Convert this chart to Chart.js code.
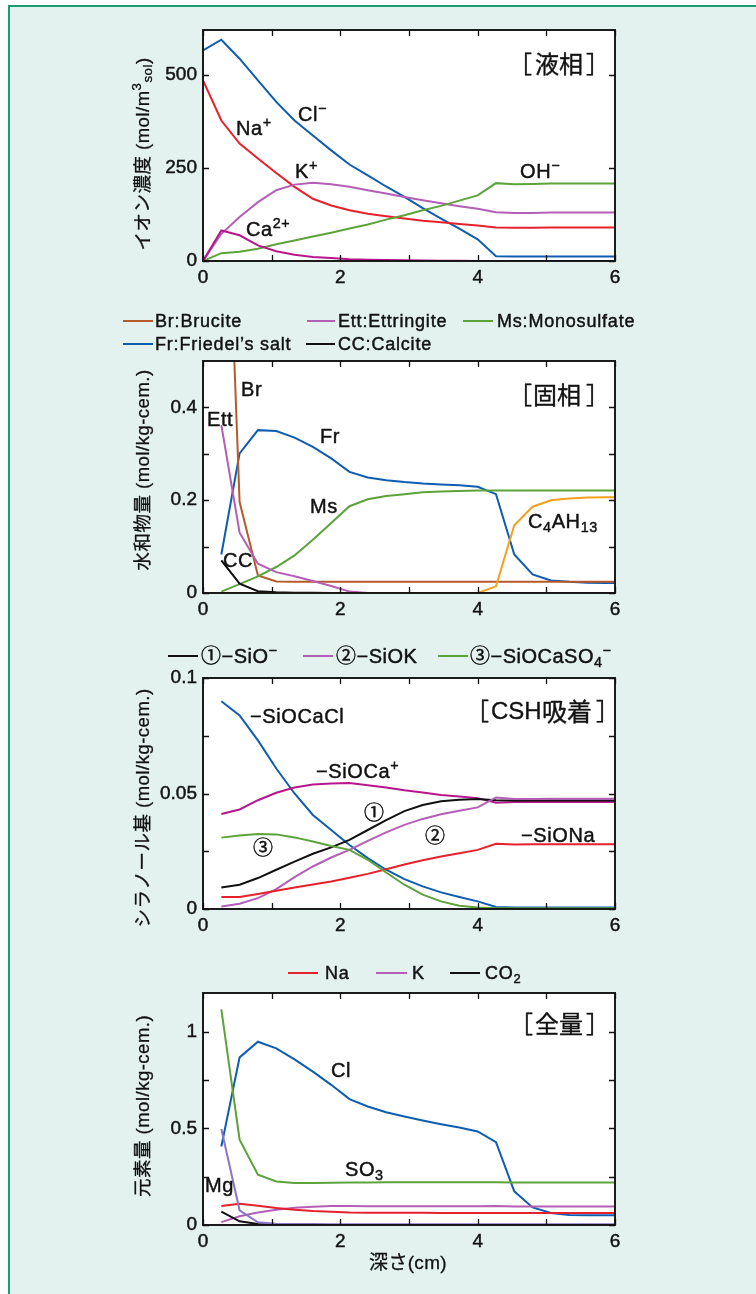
<!DOCTYPE html>
<html><head><meta charset="utf-8">
<script src="https://cdn.jsdelivr.net/npm/chart.js@4.4.1/dist/chart.umd.min.js"></script>
<style>
html,body{margin:0;padding:0;background:#fff;width:756px;height:1294px;overflow:hidden}
#bg{position:absolute;left:8px;top:5px;width:748px;height:1289px;background:#e3f2ef;border-left:2px solid #1b9a74;border-top:2px solid #1b9a74;box-sizing:border-box}
canvas{position:absolute;left:0}
</style></head><body>
<div id="bg"></div>
<canvas id="c1" width="756" height="300" style="top:0px"></canvas>
<canvas id="c2" width="756" height="330" style="top:300px"></canvas>
<canvas id="c3" width="756" height="315" style="top:630px"></canvas>
<canvas id="c4" width="756" height="349" style="top:945px"></canvas>
<script>
// ---------- DATA ----------
const depthLiquid = [0,0.267,0.533,0.8,1.067,1.333,1.6,1.867,2.133,2.4,2.667,2.933,3.2,3.467,3.733,4.0,4.267,4.533,4.8,5.067,5.333,5.6,5.867,6.0];
const depthSolid  = [0.267,0.533,0.8,1.067,1.333,1.6,1.867,2.133,2.4,2.667,2.933,3.2,3.467,3.733,4.0,4.267,4.533,4.8,5.067,5.333,5.6,5.867,6.0];

// Panel 1: liquid phase (mol/m3)
const liqCl = [565,594,543,485,427,377,337,297,259,230,200,172,142,114,87,58,12.5,12,12,12,12,12,12,12];
const liqNa = [485,377,315,275,236,199,167,149,136,127,120,114,108,104,99,95,90,89,89,90,90,90,90,90];
const liqK  = [0,73,118,158,190,205,210,206,199,190,181,172,163,155,147,140,131,129,129,130,130,130,130,130];
const liqCa = [0,82,69,42,26,17,11,8,5,3.6,2.5,1.8,1.2,0.8,0.5,0.3,0.2,0.1,0,0,0,0,0,0];
const liqOH = [0,21,25,33,45,55,66,76,87,98,111,123,136,148,162,176,209,206,207,208,208,208,208,208];

// Panel 2: solid phase (mol/kg-cem.)
const solBr  = [1.25,0.196,0.038,0.025,0.024,0.024,0.024,0.024,0.024,0.024,0.024,0.024,0.024,0.024,0.024,0.024,0.024,0.024,0.024,0.024,0.024,0.024,0.024];
const solEtt = [0.362,0.130,0.063,0.045,0.036,0.026,0.015,0.003,0,0,0,0,0,0,0,0,0,0,0,0,0,0,0];
const solFr  = [0.083,0.301,0.351,0.349,0.335,0.315,0.290,0.261,0.249,0.243,0.239,0.236,0.234,0.232,0.229,0.213,0.083,0.040,0.027,0.024,0.022,0.0216,0.0215];
const solMs  = [0.003,0.019,0.036,0.056,0.081,0.115,0.151,0.187,0.202,0.209,0.213,0.217,0.219,0.220,0.221,0.221,0.221,0.221,0.221,0.221,0.221,0.221,0.221];
const solCC  = [0.0705,0.020,0.004,0.0015,0.0007,0.0003,0,0,0,0,0,0,0,0,0,0,0,0,0,0,0,0,0];
const solC4AH13 = [0,0,0,0,0,0,0,0,0,0,0,0,0,0,0,0.0144,0.146,0.186,0.200,0.2036,0.2058,0.2065,0.2065];

// Panel 3: CSH adsorption (mol/kg-cem.)
const cshSiOCaCl  = [0.0899,0.0838,0.073,0.0608,0.050,0.0407,0.0342,0.0277,0.022,0.017,0.0129,0.0098,0.0072,0.0052,0.0033,0.0009,0.0007,0.0007,0.0007,0.0007,0.0007,0.0007,0.0007];
const cshSiOCa    = [0.0411,0.0431,0.0471,0.0503,0.0526,0.0539,0.0543,0.0545,0.0536,0.0526,0.0514,0.0504,0.0494,0.0487,0.048,0.046,0.0463,0.0463,0.0463,0.0463,0.0463,0.0463,0.0463];
const cshSiO      = [0.0093,0.0105,0.0134,0.017,0.0205,0.0239,0.0267,0.0299,0.0342,0.0385,0.0424,0.045,0.0466,0.0473,0.0476,0.0471,0.047,0.047,0.047,0.047,0.047,0.047,0.047];
const cshSiOK     = [0.0011,0.0023,0.0047,0.0086,0.0138,0.0184,0.0223,0.0256,0.0295,0.0332,0.0364,0.039,0.041,0.0425,0.044,0.0483,0.0476,0.0476,0.0477,0.0477,0.0477,0.0477,0.0477];
const cshSiOCaSO4 = [0.0309,0.0318,0.0325,0.0323,0.031,0.0292,0.0273,0.0256,0.0213,0.0158,0.0105,0.0062,0.0033,0.0014,0.0006,0.0003,0.0003,0.0003,0.0003,0.0003,0.0003,0.0003,0.0003];
const cshSiONa    = [0.0052,0.0052,0.0065,0.0079,0.0093,0.0106,0.0119,0.0135,0.0152,0.0172,0.0193,0.0211,0.0227,0.0241,0.0256,0.0282,0.0279,0.028,0.028,0.028,0.028,0.028,0.028];

// Panel 4: total amounts (mol/kg-cem.)
const totCl  = [0.406,0.867,0.948,0.914,0.857,0.793,0.725,0.651,0.613,0.583,0.561,0.540,0.521,0.504,0.484,0.429,0.174,0.091,0.062,0.052,0.05,0.05,0.05];
const totSO3 = [1.115,0.441,0.26,0.225,0.217,0.217,0.218,0.22,0.22,0.221,0.221,0.221,0.221,0.221,0.221,0.221,0.22,0.22,0.22,0.22,0.22,0.22,0.22];
const totMg  = [0.497,0.076,0.014,0.007,0.005,0.005,0.004,0.004,0.004,0.004,0.004,0.004,0.004,0.004,0.004,0.004,0.004,0.004,0.004,0.004,0.004,0.004,0.004];
const totK   = [0.015,0.045,0.065,0.079,0.089,0.095,0.098,0.098,0.097,0.097,0.097,0.097,0.097,0.097,0.097,0.098,0.096,0.096,0.096,0.096,0.096,0.096,0.096];
const totNa  = [0.098,0.11,0.10,0.088,0.079,0.072,0.069,0.065,0.064,0.063,0.063,0.063,0.062,0.062,0.062,0.062,0.062,0.062,0.062,0.062,0.062,0.062,0.062];
const totCO2 = [0.069,0.019,0.005,0.002,0.001,0,0,0,0,0,0,0,0,0,0,0,0,0,0,0,0,0,0];

// Tick values
const xTickLabels = [0,2,4,6];
const xTickMarks  = [0,1,2,3,4,5,6];
const y1Ticks = [0,250,500];
const y2Ticks = [0,0.2,0.4], y2Marks = [0,0.1,0.2,0.3,0.4];
const y3Ticks = [0,0.05,0.1], y3Marks = [0,0.025,0.05,0.075,0.1];
const y4Ticks = [0,0.5,1],   y4Marks = [0,0.25,0.5,0.75,1];

// ---------- STYLE ----------
const C = {blue:'#0f5db0', red:'#e6212b', purple:'#b35fb5', magenta:'#b8168c', green:'#5ca33b',
           brown:'#b65a2c', orange:'#f5a11d', black:'#111111', lav:'#8a76c8'};
const FONT = '"Liberation Sans","Noto Sans CJK JP",sans-serif';
const CJK  = '"Noto Sans CJK JP","Liberation Sans",sans-serif';
const SUPK = 0.72;
const TXT_STROKE = 0.45;

function segs(a){return a.map(s=>typeof s==='string'?{t:s,m:''}:{t:s[0],m:s[1]});}
function setF(ctx,size,fam){ctx.font=size+'px '+(fam||FONT);}
function rwidth(ctx,a,size,fam){let w=0;for(const s of segs(a)){setF(ctx,s.m?size*SUPK:size,fam);w+=ctx.measureText(s.t).width;}return w;}
function drawRich(ctx,a,x,y,size,align,fam,ls,sw){
  ctx.save();
  ctx.letterSpacing=(ls||0)+'px';
  const w=rwidth(ctx,a,size,fam);
  let cx=align==='left'?x:align==='right'?x-w:x-w/2;
  const base=y+size*0.36;
  ctx.textAlign='left';ctx.textBaseline='alphabetic';ctx.fillStyle='#111';ctx.strokeStyle='#111';
  ctx.lineWidth=(sw===undefined?TXT_STROKE:sw);ctx.lineJoin='round';
  for(const s of segs(a)){
    const fs=s.m?size*SUPK:size; setF(ctx,fs,fam);
    const dy=s.m==='sup'?-size*0.40:s.m==='sub'?size*0.2:0;
    if(ctx.lineWidth>0.01) ctx.strokeText(s.t,cx,base+dy);
    ctx.fillText(s.t,cx,base+dy); cx+=ctx.measureText(s.t).width;
  }
  ctx.restore();
}
// draw text so that its ink starts (or ends) at x
function drawInk(ctx,t,x,y,size,fam,side){
  ctx.save();
  setF(ctx,size,fam);ctx.textAlign='left';ctx.textBaseline='middle';ctx.fillStyle='#111';ctx.strokeStyle='#111';
  ctx.lineWidth=0.35;ctx.lineJoin='round';
  const m=ctx.measureText(t);
  const px=side==='right'?x-m.actualBoundingBoxRight:x+m.actualBoundingBoxLeft;
  ctx.strokeText(t,px,y);ctx.fillText(t,px,y);
  ctx.restore();
}

function makePanel(id, top, H, plotTop, plotBottom, ymax, yTicks, yMarks, datasets, deco){
  const XH=28;
  const deco_plugin={
    id:'deco'+id,
    beforeDraw(chart){const a=chart.chartArea,ctx=chart.ctx;ctx.save();ctx.fillStyle='#fff';ctx.fillRect(a.left,a.top,a.right-a.left,a.bottom-a.top);ctx.restore();},
    afterDatasetsDraw(chart){
      const a=chart.chartArea,ctx=chart.ctx,xs=chart.scales.x,ys=chart.scales.y;
      ctx.save();
      ctx.strokeStyle='#111';ctx.lineWidth=1.3;
      const TL=6;
      ctx.beginPath();
      for(const v of xTickMarks){const p=Math.round(xs.getPixelForValue(v))+0.5;
        ctx.moveTo(p,a.bottom);ctx.lineTo(p,a.bottom-TL);ctx.moveTo(p,a.top);ctx.lineTo(p,a.top+TL);}
      for(const v of yMarks){const p=Math.round(ys.getPixelForValue(v))+0.5;
        ctx.moveTo(a.left,p);ctx.lineTo(a.left+TL,p);ctx.moveTo(a.right,p);ctx.lineTo(a.right-TL,p);}
      ctx.stroke();
      ctx.lineWidth=1.9;ctx.strokeRect(a.left,a.top,a.right-a.left,a.bottom-a.top);
      for(const L of (deco.legend||[])){
        ctx.strokeStyle=L.c;ctx.lineWidth=2;ctx.beginPath();ctx.moveTo(L.x0,L.y-top);ctx.lineTo(L.x1,L.y-top);ctx.stroke();
        drawRich(ctx,L.s,L.tx,L.y-top,L.size||18,'left',FONT,L.ls===undefined?0.8:L.ls);
      }
      for(const T of (deco.labels||[])){
        drawRich(ctx,T.s,T.x,T.y-top,T.size||20,T.align||'left',T.fam||FONT,T.ls===undefined?0.6:T.ls);
      }
      for(const K of (deco.ink||[])){
        drawInk(ctx,K.t,K.x,K.y-top,K.size,K.fam||CJK,K.side);
      }
      if(deco.ytitle){const Y=deco.ytitle;ctx.save();ctx.translate(Y.x,Y.y-top);ctx.rotate(-Math.PI/2);
        drawRich(ctx,Y.s,0,0,Y.size||18.5,'center',FONT,Y.ls===undefined?0.5:Y.ls,0.3);ctx.restore();}
      if(deco.xtitle){const X=deco.xtitle;drawRich(ctx,X.s,X.x,X.y-top,X.size||19,'center',FONT,0.3,0.3);}
      ctx.restore();
    }
  };
  const tickFont={family:FONT,size:19};
  return new Chart(document.getElementById(id),{
    type:'line',
    data:{datasets:datasets.map(d=>({data:d.xs.map((x,i)=>({x:x,y:d.ys[i]})),borderColor:d.c,borderWidth:2,pointRadius:0,tension:0,fill:false}))},
    options:{
      responsive:false,animation:false,events:[],
      layout:{padding:{left:0,right:141,top:plotTop-top,bottom:H-(plotBottom-top)-XH}},
      plugins:{legend:{display:false},tooltip:{enabled:false}},
      scales:{
        x:{type:'linear',min:0,max:6,
           afterBuildTicks:s=>{s.ticks=xTickLabels.map(v=>({value:v}));},
           afterFit:s=>{s.height=XH;},
           grid:{display:false,drawTicks:false},border:{display:false},
           ticks:{color:'#111',font:tickFont,padding:5,maxRotation:0,autoSkip:false,textStrokeColor:'#111',textStrokeWidth:0.45}},
        y:{type:'linear',min:0,max:ymax,
           afterBuildTicks:s=>{s.ticks=yTicks.map(v=>({value:v}));},
           afterFit:s=>{s.width=203;},
           grid:{display:false,drawTicks:false},border:{display:false},
           ticks:{color:'#111',font:tickFont,padding:6,autoSkip:false,callback:v=>String(v),textStrokeColor:'#111',textStrokeWidth:0.45}}
      }
    },
    plugins:[deco_plugin]
  });
}

// Panel 1
makePanel('c1',0,300,30,261,620,y1Ticks,y1Ticks,[
  {xs:depthLiquid,ys:liqCa,c:C.magenta},
  {xs:depthLiquid,ys:liqOH,c:C.green},
  {xs:depthLiquid,ys:liqK,c:C.purple},
  {xs:depthLiquid,ys:liqNa,c:C.red},
  {xs:depthLiquid,ys:liqCl,c:C.blue}
],{
  ink:[
    {t:'［',x:532,y:64,size:24,side:'right'},{t:'液相',x:535,y:64,size:24},{t:'］',x:586,y:64,size:24}
  ],
  labels:[
    {s:['Cl',['−','sup']],x:298,y:114},
    {s:['Na',['+','sup']],x:236,y:128},
    {s:['K',['+','sup']],x:295,y:171},
    {s:['Ca',['2+','sup']],x:246,y:229},
    {s:['OH',['−','sup']],x:520,y:171}
  ],
  ytitle:{s:['イオン濃度 (mol/m',['3','sup'],['sol','sub'],')'],x:142,y:154}
});

// Panel 2
makePanel('c2',300,330,361,593,0.5,y2Ticks,y2Marks,[
  {xs:depthSolid,ys:solC4AH13,c:C.orange},
  {xs:depthSolid,ys:solEtt,c:C.purple},
  {xs:depthSolid,ys:solCC,c:C.black},
  {xs:depthSolid,ys:solMs,c:C.green},
  {xs:depthSolid,ys:solBr,c:C.brown},
  {xs:depthSolid,ys:solFr,c:C.blue}
],{
  legend:[
    {s:['Br:Brucite'],c:C.brown,x0:123,x1:153,tx:155,y:321},
    {s:['Ett:Ettringite'],c:C.purple,x0:307,x1:335,tx:338,y:321},
    {s:['Ms:Monosulfate'],c:C.green,x0:463,x1:493,tx:497,y:321},
    {s:['Fr:Friedel’s salt'],c:C.blue,x0:123,x1:153,tx:155,y:344},
    {s:['CC:Calcite'],c:C.black,x0:306,x1:335,tx:338,y:344}
  ],
  ink:[
    {t:'［',x:532,y:395,size:24,side:'right'},{t:'固相',x:535,y:395,size:24},{t:'］',x:586,y:395,size:24}
  ],
  labels:[
    {s:['Br'],x:241,y:389},
    {s:['Ett'],x:207,y:419},
    {s:['Fr'],x:320,y:436},
    {s:['Ms'],x:310,y:506},
    {s:['C',['4','sub'],'AH',['13','sub']],x:528,y:521},
    {s:['CC'],x:223,y:560}
  ],
  ytitle:{s:['水和物量 (mol/kg-cem.)'],x:142,y:470}
});

// Panel 3
makePanel('c3',630,315,678,909,0.1,y3Ticks,y3Marks,[
  {xs:depthSolid,ys:cshSiOCaSO4,c:C.green},
  {xs:depthSolid,ys:cshSiONa,c:C.red},
  {xs:depthSolid,ys:cshSiOK,c:C.purple},
  {xs:depthSolid,ys:cshSiO,c:C.black},
  {xs:depthSolid,ys:cshSiOCa,c:C.magenta},
  {xs:depthSolid,ys:cshSiOCaCl,c:C.blue}
],{
  legend:[
    {s:['①−SiO',['−','sup']],c:C.black,x0:168,x1:198,tx:201,y:656,size:20,ls:0.5},
    {s:['②−SiOK'],c:C.purple,x0:303,x1:333,tx:336,y:656,size:20,ls:0.5},
    {s:['③−SiOCaSO',['4','sub'],['−','sup']],c:C.green,x0:438,x1:468,tx:470,y:656,size:20,ls:0.5}
  ],
  ink:[
    {t:'［',x:489,y:711,size:24,side:'right'},{t:'CSH',x:492,y:712,size:24,fam:FONT},{t:'吸着',x:543,y:711,size:25},{t:'］',x:596,y:711,size:24}
  ],
  labels:[
    {s:['−SiOCaCl'],x:250,y:716},
    {s:['−SiOCa',['+','sup']],x:316,y:771},
    {s:['①'],x:374,y:813,align:'center',ls:0},
    {s:['②'],x:435,y:836,align:'center',ls:0},
    {s:['③'],x:263,y:848,align:'center',ls:0},
    {s:['−SiONa'],x:521,y:835}
  ],
  ytitle:{s:['シラノール基 (mol/kg-cem.)'],x:142,y:808}
});

// Panel 4
makePanel('c4',945,349,993,1225,1.2,y4Ticks,y4Marks,[
  {xs:depthSolid,ys:totMg,c:C.lav},
  {xs:depthSolid,ys:totCO2,c:C.black},
  {xs:depthSolid,ys:totNa,c:C.red},
  {xs:depthSolid,ys:totK,c:C.purple},
  {xs:depthSolid,ys:totSO3,c:C.green},
  {xs:depthSolid,ys:totCl,c:C.blue}
],{
  legend:[
    {s:['Na'],c:C.red,x0:288,x1:318,tx:325,y:973},
    {s:['K'],c:C.purple,x0:376,x1:407,tx:412,y:973},
    {s:['CO',['2','sub']],c:C.black,x0:450,x1:480,tx:485,y:973}
  ],
  ink:[
    {t:'［',x:533,y:1024,size:24,side:'right'},{t:'全量',x:535,y:1024,size:24},{t:'］',x:586,y:1024,size:24}
  ],
  labels:[
    {s:['Cl'],x:331,y:1070},
    {s:['SO',['3','sub']],x:345,y:1169},
    {s:['Mg'],x:205,y:1185}
  ],
  ytitle:{s:['元素量 (mol/kg-cem.)'],x:142,y:1106},
  xtitle:{s:['深さ(cm)'],x:408,y:1262}
});
</script>
</body></html>
